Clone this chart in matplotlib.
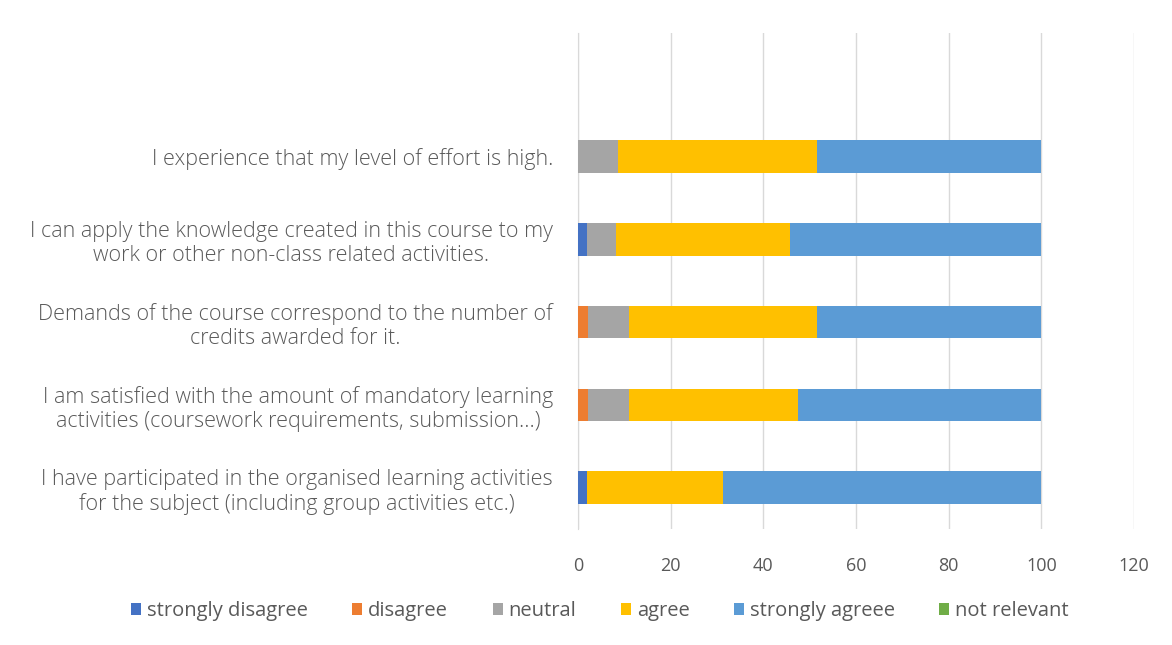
import matplotlib
matplotlib.use("Agg")
import matplotlib.pyplot as plt
import numpy as np

# questions, bottom to top (top slot is empty in the source)
questions = [
    "I have participated in the organised learning activities\nfor the subject (including group activities etc.)",
    "I am satisfied with the amount of mandatory learning\nactivities (coursework requirements, submission...)",
    "Demands of the course correspond to the number of\ncredits awarded for it.",
    "I can apply the knowledge created in this course to my\nwork or other non-class related activities.",
    "I experience that my level of effort is high.",
]
series_names = ["strongly disagree", "disagree", "neutral", "agree", "strongly agreee", "not relevant"]
strongly_disagree = [1.9, 0.0, 0.0, 1.9, 0.0]
disagree = [0.0, 2.2, 2.2, 0.0, 0.0]
neutral = [0.0, 8.7, 8.9, 6.3, 8.6]
agree = [29.5, 36.5, 40.5, 37.6, 43.0]
strongly_agree = [68.6, 52.6, 48.4, 54.2, 48.4]
not_relevant = [0.0, 0.0, 0.0, 0.0, 0.0]
colors = ["#4472C4", "#ED7D31", "#A5A5A5", "#FFC000", "#5B9BD5", "#70AD47"]

plt.rcParams['font.family'] = ['Open Sans', 'DejaVu Sans']
txt = "#595959"

fig = plt.figure(figsize=(11.72, 6.45), dpi=100)
ax = fig.add_axes([578 / 1172, 1 - 529 / 645, (1134 - 578) / 1172, (529 - 32.5) / 645])

y = np.arange(len(questions))
left = np.zeros(len(questions))
for name, vals, c in zip(series_names,
                         [strongly_disagree, disagree, neutral, agree, strongly_agree, not_relevant],
                         colors):
    ax.barh(y, vals, left=left, height=0.39, color=c, label=name, zorder=3)
    left += np.array(vals)

ax.set_xlim(0, 120)
ax.set_ylim(-0.5, 5.5)
ax.set_xticks(range(0, 121, 20))
ax.set_yticks(y)
ax.set_yticklabels(questions, fontsize=15.5, color=txt, fontweight='light',
                   ha='right', multialignment='center', linespacing=1.2)
ax.tick_params(axis='y', length=0, pad=18)
ax.tick_params(axis='x', length=0, labelsize=13, labelcolor=txt, pad=20)
ax.grid(axis='x', color='#D9D9D9', linewidth=1, zorder=0)
for s in ['top', 'right', 'bottom']:
    ax.spines[s].set_visible(False)
ax.spines['left'].set_color('#D9D9D9')

leg = fig.legend(loc='center', bbox_to_anchor=(600 / 1172, 1 - 611 / 645), ncol=6,
                 frameon=False, fontsize=14.5, handlelength=0.5, handleheight=0.5,
                 handletextpad=0.3, columnspacing=2.2)
for t in leg.get_texts():
    t.set_color(txt)

fig.savefig("out.png", dpi=100, facecolor="white")
